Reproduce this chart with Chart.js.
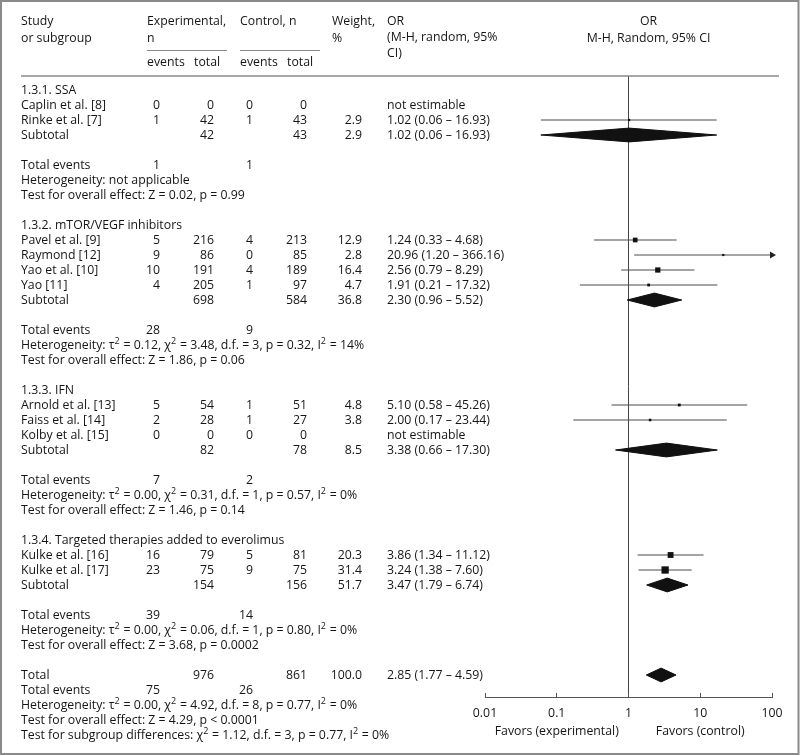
<!DOCTYPE html>
<html>
<head>
<meta charset="utf-8">
<script src="https://cdn.jsdelivr.net/npm/chart.js@4.4.1/dist/chart.umd.min.js"></script>
<style>
  html, body { margin: 0; padding: 0; background: #fff; }
  #wrap { width: 800px; height: 756px; position: relative; }
</style>
</head>
<body>
<div id="wrap"><canvas id="forest"></canvas></div>
<script>
// Études individuelles
const studyNames = ["Caplin et al. [8]", "Rinke et al. [7]", "Pavel et al. [9]", "Raymond [12]", "Yao et al. [10]", "Yao [11]",
	"Arnold et al. [13]", "Faiss et al. [14]", "Kolby et al. [15]", "Kulke et al. [16]", "Kulke et al. [17]"];
const studyGroup = [0, 0, 1, 1, 1, 1, 2, 2, 2, 3, 3];
const expEvents = [0, 1, 5, 9, 10, 4, 5, 2, 0, 16, 23];
const expTotal = [0, 42, 216, 86, 191, 205, 54, 28, 0, 79, 75];
const ctlEvents = [0, 1, 4, 0, 4, 1, 1, 1, 0, 5, 9];
const ctlTotal = [0, 43, 213, 85, 189, 97, 51, 27, 0, 81, 75];
const studyWeight = [null, 2.9, 12.9, 2.8, 16.4, 4.7, 4.8, 3.8, null, 20.3, 31.4];
const studyOR = [null, 1.02, 1.24, 20.96, 2.56, 1.91, 5.10, 2.00, null, 3.86, 3.24];
const studyLow = [null, 0.06, 0.33, 1.20, 0.79, 0.21, 0.58, 0.17, null, 1.34, 1.38];
const studyHigh = [null, 16.93, 4.68, 366.16, 8.29, 17.32, 45.26, 23.44, null, 11.12, 7.60];

// Sous-groupes
const groupNames = ["1.3.1. SSA", "1.3.2. mTOR/VEGF inhibitors", "1.3.3. IFN", "1.3.4. Targeted therapies added to everolimus"];
const groupExpTotal = [42, 698, 82, 154];
const groupCtlTotal = [43, 584, 78, 156];
const groupWeight = [2.9, 36.8, 8.5, 51.7];
const groupOR = [1.02, 2.30, 3.38, 3.47];
const groupLow = [0.06, 0.96, 0.66, 1.79];
const groupHigh = [16.93, 5.52, 17.30, 6.74];
const groupEventsExp = [1, 28, 7, 39];
const groupEventsCtl = [1, 9, 2, 14];
const groupHetero = [
	"Heterogeneity: not applicable",
	"Heterogeneity: τ^2 = 0.12, χ^2 = 3.48, d.f. = 3, p = 0.32, I^2 = 14%",
	"Heterogeneity: τ^2 = 0.00, χ^2 = 0.31, d.f. = 1, p = 0.57, I^2 = 0%",
	"Heterogeneity: τ^2 = 0.00, χ^2 = 0.06, d.f. = 1, p = 0.80, I^2 = 0%"
];
const groupEffect = [
	"Test for overall effect: Z = 0.02, p = 0.99",
	"Test for overall effect: Z = 1.86, p = 0.06",
	"Test for overall effect: Z = 1.46, p = 0.14",
	"Test for overall effect: Z = 3.68, p = 0.0002"
];

// Total
const totalExp = 976;
const totalCtl = 861;
const totalWeight = 100.0;
const totalOR = 2.85;
const totalLow = 1.77;
const totalHigh = 4.59;
const totalEventsExp = 75;
const totalEventsCtl = 26;
const totalNotes = [
	"Heterogeneity: τ^2 = 0.00, χ^2 = 4.92, d.f. = 8, p = 0.77, I^2 = 0%",
	"Test for overall effect: Z = 4.29, p < 0.0001",
	"Test for subgroup differences: χ^2 = 1.12, d.f. = 3, p = 0.77, I^2 = 0%"
];

// Axe
const xTicks = [0.01, 0.1, 1, 10, 100];
const favorLabels = { 0.1: "Favors (experimental)", 10: "Favors (control)" };

const FONT_FAMILY = "'Open Sans', 'Noto Sans', sans-serif";
const FONT = "12.3px " + FONT_FAMILY;
const SUP_FONT = "9px " + FONT_FAMILY;
const TEXT_COLOR = "#151515";
const X_MIN = xTicks[0];
const X_MAX = xTicks[xTicks.length - 1];
const DIAMOND_HALF = 0.46; // demi-hauteur du losange, en lignes

// Construction des lignes du tableau
const rows = [];
let r = 0;
groupNames.forEach((name, gi) => {
	rows.push({ row: r++, type: "group", gi });
	studyNames.forEach((s, si) => {
		if (studyGroup[si] === gi) rows.push({ row: r++, type: "study", si });
	});
	rows.push({ row: r++, type: "subtotal", gi });
	r++;
	rows.push({ row: r++, type: "events", gi });
	rows.push({ row: r++, type: "hetero", gi });
	rows.push({ row: r++, type: "effect", gi });
	r++;
});
const totalRow = r;
rows.push({ row: r++, type: "total" });
rows.push({ row: r++, type: "totalEvents" });
totalNotes.forEach((n, ni) => rows.push({ row: r++, type: "note", ni }));

const rowOf = (type, key, val) => rows.find(o => o.type === type && o[key] === val).row;
const fmtCI = (or, lo, hi) => `${or.toFixed(2)} (${lo.toFixed(2)} – ${hi.toFixed(2)})`;

// Jeux de données
const datasets = [];

// Carrés (poids)
const squarePoints = [];
const squareRadius = [];
studyNames.forEach((s, si) => {
	if (studyOR[si] === null) return;
	squarePoints.push({ x: studyOR[si], y: rowOf("study", "si", si) });
	squareRadius.push(1.3 * Math.sqrt(studyWeight[si]) / Math.SQRT2);
});
datasets.push({
	label: "OR",
	data: squarePoints,
	pointStyle: "rect",
	pointRadius: squareRadius,
	pointBackgroundColor: "#111",
	pointBorderWidth: 0,
	showLine: false,
	clip: false
});

// Intervalles de confiance
studyNames.forEach((s, si) => {
	if (studyOR[si] === null) return;
	const row = rowOf("study", "si", si);
	const clipped = studyHigh[si] > X_MAX;
	datasets.push({
		label: s,
		data: [{ x: Math.max(studyLow[si], X_MIN), y: row }, { x: Math.min(studyHigh[si], X_MAX), y: row }],
		showLine: true,
		borderColor: "#4a4a4a",
		borderWidth: 1,
		pointStyle: "triangle",
		pointRotation: 90,
		pointRadius: clipped ? [0, 4] : 0,
		pointBackgroundColor: "#222",
		pointBorderWidth: 0,
		clip: false
	});
});

// Losanges (sous-totaux et total)
function diamond(label, or, lo, hi, row) {
	datasets.push({
		label: label,
		data: [
			{ x: lo, y: row },
			{ x: or, y: row - DIAMOND_HALF },
			{ x: hi, y: row },
			{ x: or, y: row + DIAMOND_HALF },
			{ x: lo, y: row }
		],
		showLine: true,
		fill: "shape",
		backgroundColor: "#111",
		borderColor: "#111",
		borderWidth: 1,
		pointRadius: 0,
		tension: 0,
		clip: false
	});
}
groupNames.forEach((g, gi) => diamond(g, groupOR[gi], groupLow[gi], groupHigh[gi], rowOf("subtotal", "gi", gi)));
diamond("Total", totalOR, totalLow, totalHigh, totalRow);

// Texte enrichi (exposants notés ^2)
function richText(ctx, str, x, y) {
	const parts = str.split(/\^(\d)/);
	let cx = x;
	ctx.textAlign = "left";
	parts.forEach((p, i) => {
		const sup = i % 2 === 1;
		ctx.font = sup ? SUP_FONT : FONT;
		ctx.fillText(p, cx, sup ? y - 4 : y);
		cx += ctx.measureText(p).width + (sup ? 0.5 : 0);
	});
}
function txt(ctx, str, x, y, align) {
	ctx.font = FONT;
	ctx.textAlign = align || "left";
	ctx.fillText(String(str), x, y);
}

// Colonnes
const COL_NAME = 21;
const COL_EXP_EV = 160;
const COL_EXP_TOT = 214;
const COL_CTL_EV = 253;
const COL_CTL_TOT = 307;
const COL_WEIGHT = 362;
const COL_OR = 387;

const tablePlugin = {
	id: "tablePlugin",
	beforeDraw(chart) {
		const ctx = chart.ctx;
		ctx.save();
		ctx.fillStyle = "#fff";
		ctx.fillRect(0, 0, chart.width, chart.height);
		ctx.restore();
	},
	afterDraw(chart) {
		const ctx = chart.ctx;
		const yScale = chart.scales.y;
		ctx.save();
		ctx.fillStyle = TEXT_COLOR;
		ctx.textBaseline = "middle";

		// En-tête
		txt(ctx, "Study", COL_NAME, 21);
		txt(ctx, "or subgroup", COL_NAME, 38);
		txt(ctx, "Experimental,", 147, 21);
		txt(ctx, "n", 147, 38);
		txt(ctx, "Control, n", 240, 21);
		txt(ctx, "Weight,", 332, 21);
		txt(ctx, "%", 332, 38);
		txt(ctx, "OR", COL_OR, 21);
		txt(ctx, "(M-H, random, 95%", COL_OR, 37);
		txt(ctx, "CI)", COL_OR, 53);
		txt(ctx, "events", 147, 62);
		txt(ctx, "total", 194, 62);
		txt(ctx, "events", 240, 62);
		txt(ctx, "total", 287, 62);
		const xs = chart.scales.x;
		const mid = (xs.left + xs.right) / 2 + 20;
		txt(ctx, "OR", mid, 21, "center");
		txt(ctx, "M-H, Random, 95% CI", mid, 38, "center");

		ctx.strokeStyle = "#8a8a8a";
		ctx.lineWidth = 1;
		ctx.beginPath();
		ctx.moveTo(147, 50.5); ctx.lineTo(227, 50.5);
		ctx.moveTo(240, 50.5); ctx.lineTo(320, 50.5);
		ctx.stroke();
		ctx.lineWidth = 1.5;
		ctx.beginPath();
		ctx.moveTo(COL_NAME, chart.chartArea.top); ctx.lineTo(779, chart.chartArea.top);
		ctx.stroke();

		// Lignes du tableau
		rows.forEach(o => {
			const y = yScale.getPixelForValue(o.row);
			if (o.type === "group") {
				txt(ctx, groupNames[o.gi], COL_NAME, y);
			} else if (o.type === "study") {
				const si = o.si;
				txt(ctx, studyNames[si], COL_NAME, y);
				txt(ctx, expEvents[si], COL_EXP_EV, y, "right");
				txt(ctx, expTotal[si], COL_EXP_TOT, y, "right");
				txt(ctx, ctlEvents[si], COL_CTL_EV, y, "right");
				txt(ctx, ctlTotal[si], COL_CTL_TOT, y, "right");
				if (studyOR[si] === null) {
					txt(ctx, "not estimable", COL_OR, y);
				} else {
					txt(ctx, studyWeight[si].toFixed(1), COL_WEIGHT, y, "right");
					txt(ctx, fmtCI(studyOR[si], studyLow[si], studyHigh[si]), COL_OR, y);
				}
			} else if (o.type === "subtotal") {
				const gi = o.gi;
				txt(ctx, "Subtotal", COL_NAME, y);
				txt(ctx, groupExpTotal[gi], COL_EXP_TOT, y, "right");
				txt(ctx, groupCtlTotal[gi], COL_CTL_TOT, y, "right");
				txt(ctx, groupWeight[gi].toFixed(1), COL_WEIGHT, y, "right");
				txt(ctx, fmtCI(groupOR[gi], groupLow[gi], groupHigh[gi]), COL_OR, y);
			} else if (o.type === "events") {
				txt(ctx, "Total events", COL_NAME, y);
				txt(ctx, groupEventsExp[o.gi], COL_EXP_EV, y, "right");
				txt(ctx, groupEventsCtl[o.gi], COL_CTL_EV, y, "right");
			} else if (o.type === "hetero") {
				richText(ctx, groupHetero[o.gi], COL_NAME, y);
			} else if (o.type === "effect") {
				richText(ctx, groupEffect[o.gi], COL_NAME, y);
			} else if (o.type === "total") {
				txt(ctx, "Total", COL_NAME, y);
				txt(ctx, totalExp, COL_EXP_TOT, y, "right");
				txt(ctx, totalCtl, COL_CTL_TOT, y, "right");
				txt(ctx, totalWeight.toFixed(1), COL_WEIGHT, y, "right");
				txt(ctx, fmtCI(totalOR, totalLow, totalHigh), COL_OR, y);
			} else if (o.type === "totalEvents") {
				txt(ctx, "Total events", COL_NAME, y);
				txt(ctx, totalEventsExp, COL_EXP_EV, y, "right");
				txt(ctx, totalEventsCtl, COL_CTL_EV, y, "right");
			} else if (o.type === "note") {
				richText(ctx, totalNotes[o.ni], COL_NAME, y);
			}
		});

		// Cadre
		ctx.strokeStyle = "#8a8a8a";
		ctx.lineWidth = 2;
		ctx.strokeRect(1, 1, chart.width - 2.5, chart.height - 3);
		ctx.restore();
	}
};

const ROW_TOP = -14 / 15;
const ROW_BOTTOM = (697 - 90) / 15;

new Chart(document.querySelector("#forest"), {
	type: "scatter",
	data: { datasets: datasets },
	options: {
		responsive: true,
		maintainAspectRatio: false,
		animation: false,
		layout: { padding: { left: 485, right: 28, top: 76, bottom: 0 } },
		plugins: { legend: { display: false }, tooltip: { enabled: false } },
		scales: {
			x: {
				type: "logarithmic",
				min: X_MIN,
				max: X_MAX,
				afterBuildTicks: scale => { scale.ticks = xTicks.map(v => ({ value: v })); },
				afterFit: scale => { scale.height = 59; },
				ticks: {
					autoSkip: false,
					maxRotation: 0,
					padding: 12,
					color: TEXT_COLOR,
					font: { family: FONT_FAMILY, size: 12.3, lineHeight: 1.45 },
					callback: v => favorLabels[v] ? [String(v), favorLabels[v]] : String(v)
				},
				grid: {
					drawOnChartArea: true,
					color: c => (c.tick && c.tick.value === 1) ? "#444" : "rgba(0,0,0,0)",
					tickColor: "#555",
					tickLength: -4
				},
				border: { display: true, color: "#555", width: 1 }
			},
			y: {
				type: "linear",
				display: false,
				reverse: true,
				min: ROW_TOP,
				max: ROW_BOTTOM
			}
		}
	},
	plugins: [tablePlugin]
});
</script>
</body>
</html>
